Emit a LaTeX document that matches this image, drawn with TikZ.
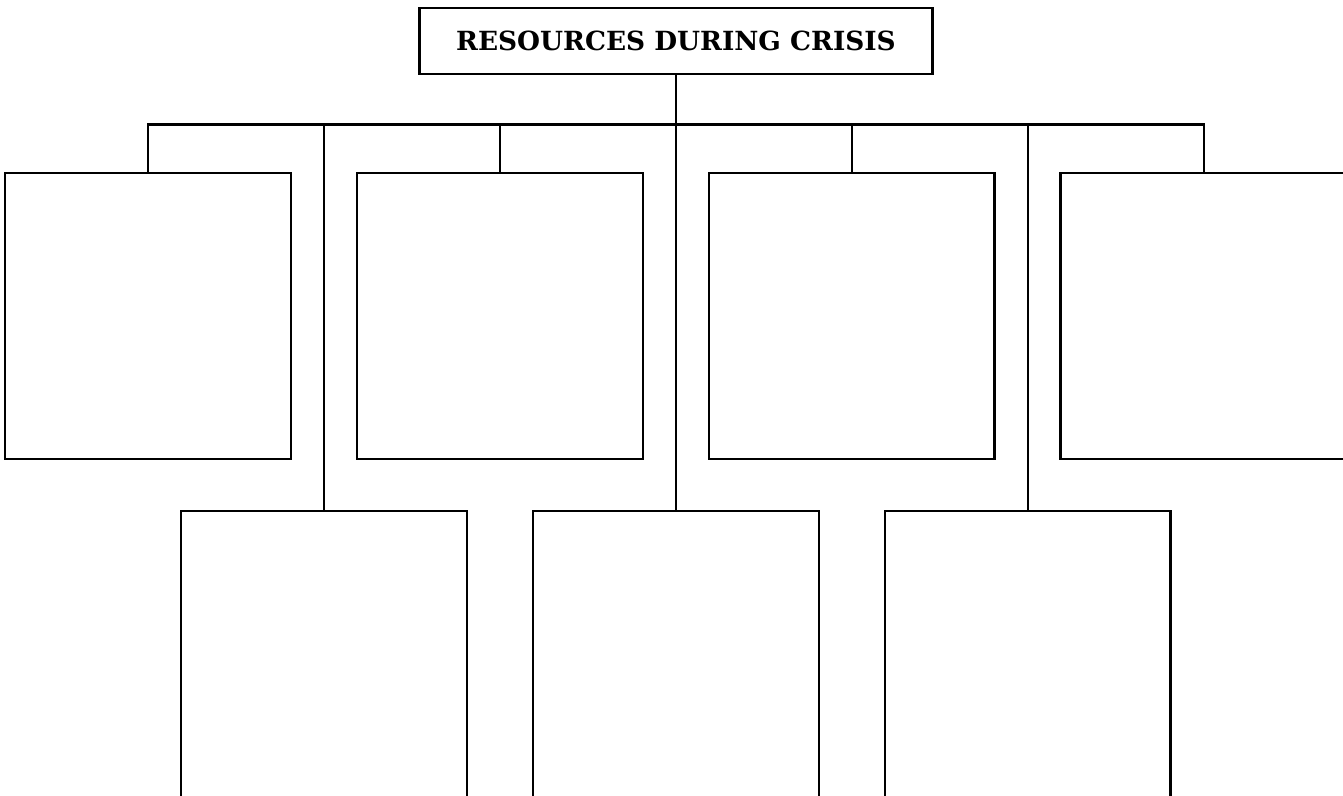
\documentclass[tikz,border=0pt]{standalone}
\usepackage{fontspec}
\newfontfamily\headfont{DejaVu Serif}
\usetikzlibrary{%
	positioning,%
}
\tikzset{
	headbox/.style={%
			draw,%
			rectangle,%
			line width=0.055cm,%
			minimum width=10.26cm,%
			minimum height=1.32cm,%
			outer sep=0pt,%
			font={\headfont\bfseries\fontsize{15}{17}\selectfont}},%
	blankbox/.style={%
			draw,%
			rectangle,%
			line width=0.055cm,%
			minimum width=5.72cm,%
			minimum height=5.72cm,%
			outer sep=0pt},%
	tallbox/.style={%
			blankbox,%
			minimum height=6.6cm,%
			anchor=north},%
	link/.style={%
			line width=0.05cm},%
}

\begin{document}
\begin{tikzpicture}[x=0.02cm, y=-0.02cm, node distance=1.32cm]%
	\useasboundingbox (0,0) rectangle (1343,795);
	\clip (0,0) rectangle (1343,795);

	\node[headbox] (head) at (676,41) {RESOURCES DURING CRISIS};

	\coordinate (bus) at (676,124.5);

	% upper row
	\node[blankbox] (up1) at (148,316) {};
	\node[blankbox] (up2) [right=of up1] {};
	\node[blankbox] (up3) [right=of up2] {};
	\node[blankbox] (up4) [right=of up3] {};

	% lower row
	\node[tallbox] (low1) at (324,511) {};
	\node[tallbox] (low2) [right=of low1.north east, anchor=north west] {};
	\node[tallbox] (low3) [right=of low2.north east, anchor=north west] {};

	\draw[link] (head) -- (bus);
	\draw[link] (up1) |- (bus) -| (up4);
	\draw[link] (up2) -- (up2 |- bus);
	\draw[link] (up3) -- (up3 |- bus);
	\draw[link] (low1) -- (low1 |- bus);
	\draw[link] (low2) -- (low2 |- bus);
	\draw[link] (low3) -- (low3 |- bus);
\end{tikzpicture}
\end{document}
